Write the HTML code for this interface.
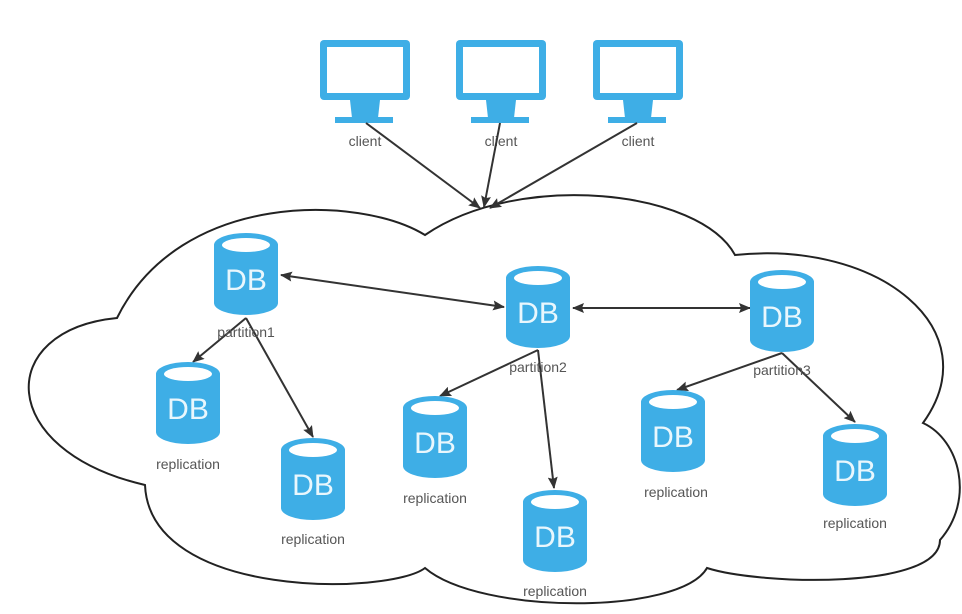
<!DOCTYPE html>
<html><head><meta charset="utf-8"><style>html,body{margin:0;padding:0;background:#fff}svg{display:block}</style></head><body>
<svg width="962" height="614" viewBox="0 0 962 614" xmlns="http://www.w3.org/2000/svg">
<defs>
<marker id="ah" viewBox="0 0 12 10" refX="11" refY="5" markerWidth="13" markerHeight="10" markerUnits="userSpaceOnUse" orient="auto-start-reverse"><path d="M0 0 L12 5 L0 10 L2 5 Z" fill="#333"/></marker>
<g id="db">
<path d="M0 12 A32 12 0 0 1 64 12 V70 A32 12 0 0 1 0 70 Z" fill="#3eaee6"/>
<ellipse cx="32" cy="12" rx="24" ry="7" fill="#fff"/>
<text x="32" y="57" text-anchor="middle" font-family="Liberation Sans, sans-serif" font-size="30" fill="#e9f7fd">DB</text>
</g>
<g id="mon">
<rect x="0" y="0" width="90" height="60" rx="4" fill="#3eaee6"/>
<rect x="7" y="7" width="76" height="46" fill="#fff"/>
<path d="M30 60 H60 L58 78 H32 Z" fill="#3eaee6"/>
<rect x="15" y="77" width="58" height="6" fill="#3eaee6"/>
</g>
</defs>
<path d="M425 235 C360 195 180 190 117 318 C-5 330 -5 450 145 485 C150 600 390 595 425 568 C480 615 680 615 707 568 C760 585 940 590 940 540 C975 500 960 440 923 423 C990 330 880 240 735 255 C700 190 520 170 425 235 Z" fill="none" stroke="#222" stroke-width="2"/>
<use href="#mon" x="320" y="40"/>
<use href="#mon" x="456" y="40"/>
<use href="#mon" x="593" y="40"/>
<g font-family="Liberation Sans, sans-serif" font-size="14" fill="#555" text-anchor="middle">
<text x="365" y="146">client</text>
<text x="501" y="146">client</text>
<text x="638" y="146">client</text>
</g>
<g stroke="#333" stroke-width="2" fill="none" marker-end="url(#ah)">
<line x1="366" y1="123" x2="480" y2="208"/>
<line x1="500" y1="123" x2="484" y2="207"/>
<line x1="637" y1="123" x2="490" y2="208"/>
<line x1="281" y1="275" x2="504" y2="307" marker-start="url(#ah)"/>
<line x1="573" y1="308" x2="750" y2="308" marker-start="url(#ah)"/>
<line x1="246" y1="318" x2="193" y2="362"/>
<line x1="246" y1="318" x2="313" y2="437"/>
<line x1="538" y1="350" x2="440" y2="396"/>
<line x1="538" y1="350" x2="554" y2="488"/>
<line x1="782" y1="353" x2="677" y2="390"/>
<line x1="782" y1="353" x2="855" y2="422"/>
</g>
<use href="#db" x="214" y="233"/>
<use href="#db" x="506" y="266"/>
<use href="#db" x="750" y="270"/>
<use href="#db" x="156" y="362"/>
<use href="#db" x="281" y="438"/>
<use href="#db" x="403" y="396"/>
<use href="#db" x="523" y="490"/>
<use href="#db" x="641" y="390"/>
<use href="#db" x="823" y="424"/>
<g font-family="Liberation Sans, sans-serif" font-size="14" fill="#555" text-anchor="middle">
<text x="246" y="337">partition1</text>
<text x="538" y="372">partition2</text>
<text x="782" y="375">partition3</text>
<text x="188" y="469">replication</text>
<text x="313" y="544">replication</text>
<text x="435" y="503">replication</text>
<text x="555" y="596">replication</text>
<text x="676" y="497">replication</text>
<text x="855" y="528">replication</text>
</g>
</svg>
</body></html>
